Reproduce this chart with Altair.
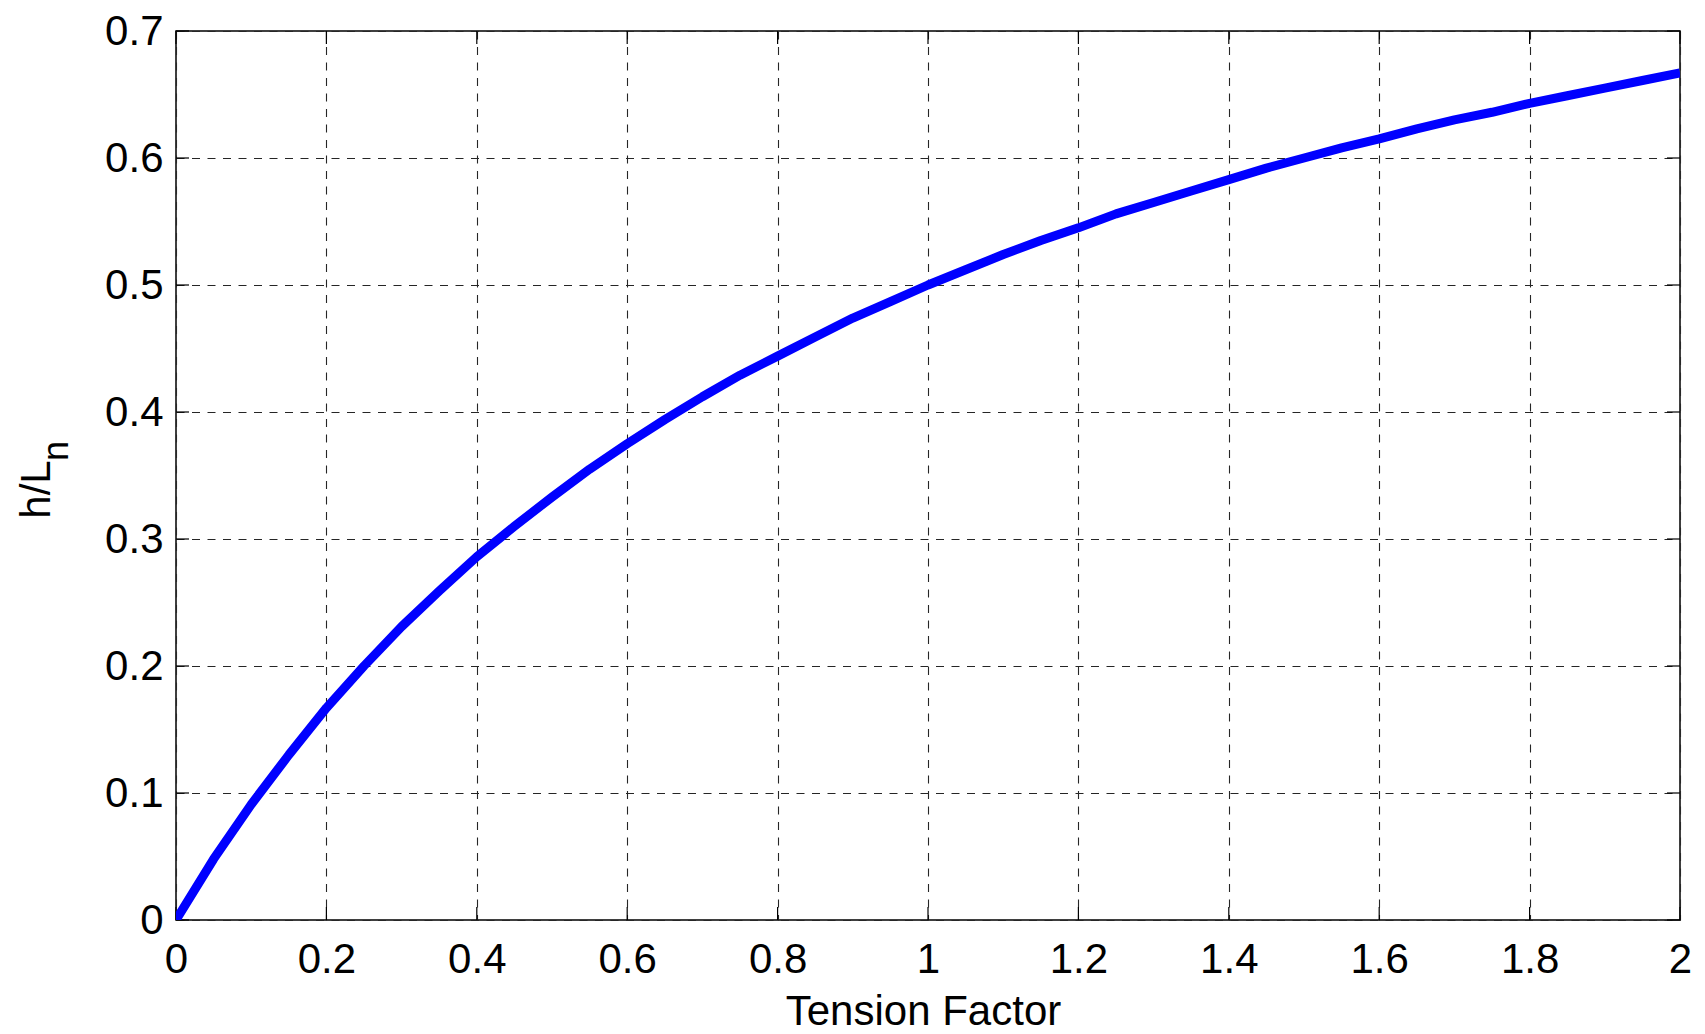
import altair as alt
import pandas as pd

# Tension factor (x) and the resulting height ratio h/L_n (y)
tension = [0.00, 0.05, 0.10, 0.15, 0.20, 0.25, 0.30, 0.35, 0.40, 0.45,
           0.50, 0.55, 0.60, 0.65, 0.70, 0.75, 0.80, 0.85, 0.90, 0.95,
           1.00, 1.05, 1.10, 1.15, 1.20, 1.25, 1.30, 1.35, 1.40, 1.45,
           1.50, 1.55, 1.60, 1.65, 1.70, 1.75, 1.80, 1.85, 1.90, 1.95, 2.00]
ratio = [0.000, 0.048, 0.091, 0.130, 0.167, 0.200, 0.231, 0.259, 0.286, 0.310,
         0.333, 0.355, 0.375, 0.394, 0.412, 0.429, 0.444, 0.459, 0.474, 0.487,
         0.500, 0.512, 0.524, 0.535, 0.545, 0.556, 0.565, 0.574, 0.583, 0.592,
         0.600, 0.608, 0.615, 0.623, 0.630, 0.636, 0.643, 0.649, 0.655, 0.661, 0.667]

x_ticks = [0, 0.2, 0.4, 0.6, 0.8, 1.0, 1.2, 1.4, 1.6, 1.8, 2.0]
y_ticks = [0, 0.1, 0.2, 0.3, 0.4, 0.5, 0.6, 0.7]

W, H = 1504, 889
FONT = "Liberation Sans"
TICK_LEN = 13

curve = pd.DataFrame({"x": tension, "y": ratio})
xt = pd.DataFrame({"x": x_ticks})
yt = pd.DataFrame({"y": y_ticks})

grid_style = dict(grid=True, gridColor="#262626", gridWidth=1.1,
                  gridDash=[8, 7.5], ticks=False, domain=False,
                  labelFont=FONT, labelFontSize=42, labelColor="black",
                  labelFlush=False, labelOverlap=False,
                  titleFont=FONT, titleFontSize=42, titleColor="black",
                  titleFontWeight="normal", format="~g")

xaxis = alt.Axis(values=x_ticks, labelPadding=19, title="Tension Factor",
                 titleX=747, titleY=104, titleBaseline="alphabetic",
                 titleAlign="center", **grid_style)
yaxis = alt.Axis(values=y_ticks, labelPadding=13, title="h/L",
                 titleAngle=270, titleX=-127, titleY=458,
                 titleBaseline="alphabetic", titleAlign="center", **grid_style)

xscale = alt.Scale(domain=[0, 2], nice=False, zero=False)
yscale = alt.Scale(domain=[0, 0.7], nice=False, zero=False)

X = alt.X("x:Q", scale=xscale, axis=xaxis)
Y = alt.Y("y:Q", scale=yscale, axis=yaxis)

line = alt.Chart(curve).mark_line(
    color="#0000FF", strokeWidth=9, clip=True, strokeJoin="round"
).encode(x=X, y=Y)

# inward tick marks on all four sides of the box
tick_bottom = alt.Chart(xt).mark_rule(color="black", strokeWidth=1.2).encode(
    x=X, y=alt.value(H), y2=alt.value(H - TICK_LEN))
tick_top = alt.Chart(xt).mark_rule(color="black", strokeWidth=1.2).encode(
    x=X, y=alt.value(0), y2=alt.value(TICK_LEN))
tick_left = alt.Chart(yt).mark_rule(color="black", strokeWidth=1.2).encode(
    y=Y, x=alt.value(0), x2=alt.value(TICK_LEN))
tick_right = alt.Chart(yt).mark_rule(color="black", strokeWidth=1.2).encode(
    y=Y, x=alt.value(W), x2=alt.value(W - TICK_LEN))

# subscript "n" of the y-axis title
subscript = alt.Chart(pd.DataFrame({"t": ["n"]})).mark_text(
    font=FONT, fontSize=36, angle=270, align="center", baseline="alphabetic",
    color="black"
).encode(x=alt.value(-108), y=alt.value(420), text="t:N")

chart = alt.layer(
    tick_bottom, tick_top, tick_left, tick_right, line, subscript
).properties(
    width=W, height=H,
    padding={"left": 176, "top": 31, "right": 25, "bottom": 114},
    autosize=alt.AutoSizeParams(type="none"),
    background="white",
).configure_view(stroke="black", strokeWidth=1.5)

chart.save("out.html", embed_options={"renderer": "svg", "actions": False})
